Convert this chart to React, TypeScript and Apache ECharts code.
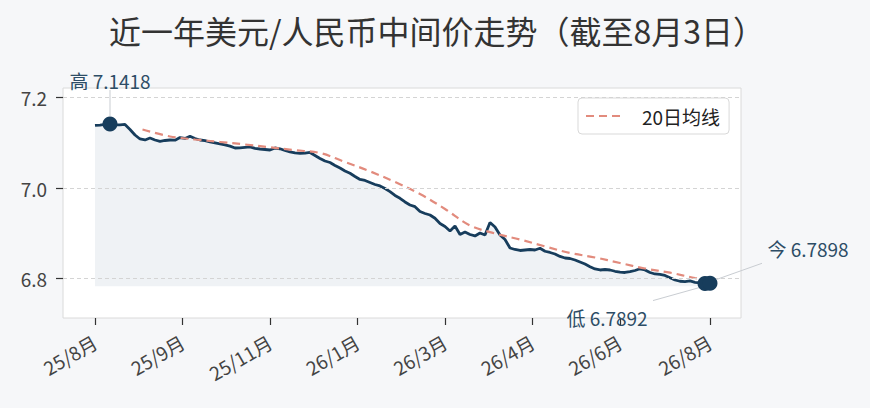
import React, { useEffect, useRef } from 'react';
import * as echarts from 'echarts';

const FONT = '"Noto Sans CJK SC", "Noto Sans", sans-serif';
const titleText = '近一年美元/人民币中间价走势（截至8月3日）';
const legendName = '20日均线';

// x axis: trading-day index, ticks and their labels
const tickIdx = [0, 35, 70, 105, 140, 175, 210, 246];
const tickLabels = ['25/8月', '25/9月', '25/11月', '26/1月', '26/3月', '26/4月', '26/6月', '26/8月'];
const yTicks = [6.8, 7.0, 7.2];

// mid-rate, sampled every 2 trading days (index 0, 2, 4, ... 246)
const sampleStep = 2;
const rate = [
  7.1386, 7.1395, 7.1408, 7.1418, 7.1401, 7.1397, 7.1408, 7.1297, 7.1176, 7.1087,
  7.1065, 7.1109, 7.1065, 7.1036, 7.1054, 7.1065, 7.1060, 7.1120, 7.1098, 7.1147,
  7.1098, 7.1065, 7.1050, 7.1021, 7.0999, 7.0977, 7.0955, 7.0928, 7.0888, 7.0893,
  7.0904, 7.0911, 7.0882, 7.0866, 7.0855, 7.0844, 7.0888, 7.0871, 7.0833, 7.0800,
  7.0778, 7.0771, 7.0775, 7.0789, 7.0723, 7.0656, 7.0601, 7.0568, 7.0502, 7.0446,
  7.0380, 7.0329, 7.0259, 7.0192, 7.0170, 7.0126, 7.0082, 7.0049, 6.9993, 6.9923,
  6.9839, 6.9777, 6.9695, 6.9629, 6.9591, 6.9485, 6.9441, 6.9408, 6.9335, 6.9220,
  6.9154, 6.9054, 6.9165, 6.8977, 6.9032, 6.8977, 6.8944, 6.9010, 6.8966, 6.9242,
  6.9143, 6.8966, 6.8866, 6.8678, 6.8645, 6.8623, 6.8634, 6.8645, 6.8634, 6.8672,
  6.8606, 6.8579, 6.8546, 6.8491, 6.8457, 6.8446, 6.8413, 6.8369, 6.8325, 6.8265,
  6.8214, 6.8192, 6.8203, 6.8192, 6.8164, 6.8144, 6.8137, 6.8155, 6.8181, 6.8219,
  6.8192, 6.8137, 6.8104, 6.8093, 6.8071, 6.8022, 6.7971, 6.7943, 6.7934, 6.7950,
  6.7920, 6.7905, 6.7892, 6.7898,
];

// 20-day moving average, read at these trading-day indices
const maIdx = [19, 30, 40, 50, 60, 70, 80, 90, 100, 110, 120, 130, 140, 150, 160, 170, 180, 190, 200, 210, 220, 230, 240, 246];
const maVals = [
  7.1297, 7.1143, 7.1076, 7.1021, 7.0966, 7.0904, 7.0838, 7.0778, 7.0579, 7.0373,
  7.0137, 6.9872, 6.9540, 6.9176, 6.8999, 6.8866, 6.8712, 6.8568, 6.8469, 6.8347,
  6.8225, 6.8133, 6.8015, 6.7960,
];

// highlighted points
const highIdx = 6;
const highVal = 7.1418;
const lowIdx = 244;
const lowVal = 6.7892;
const lastIdx = 246;
const lastVal = 6.7898;
const fillBase = 6.783;

const NAVY = '#173d5c';
const SALMON = '#e28b7d';
const ANN = '#2d4d66';
const GUIDE = '#c9cdd2';

export default function App() {
  const ref = useRef<HTMLDivElement>(null);

  useEffect(() => {
    document.body.style.margin = '0';
    const chart = echarts.init(ref.current!, null, { renderer: 'svg' });
    const option: any = {
      animation: false,
      backgroundColor: '#f6f7f9',
      textStyle: { fontFamily: FONT },
      title: {
        text: titleText,
        left: 104,
        top: 9,
        textStyle: { fontFamily: FONT, fontSize: 32, fontWeight: 'normal', color: '#333' },
      },
      legend: {
        data: [legendName],
        left: 578,
        top: 98,
        itemWidth: 39,
        itemHeight: 10,
        padding: [8, 9, 8, 7],
        backgroundColor: '#fff',
        borderColor: '#d9d9d9',
        borderWidth: 1,
        borderRadius: 4,
        itemStyle: { opacity: 0 },
        textStyle: { fontFamily: FONT, fontSize: 19, lineHeight: 20, color: '#222', padding: [0, 0, 0, 12] },
      },
      grid: {
        left: 63,
        top: 88,
        width: 678,
        height: 230,
        show: true,
        backgroundColor: '#fff',
        borderColor: '#dadada',
        borderWidth: 1,
      },
      xAxis: {
        type: 'value',
        min: -12.8,
        max: 258.4,
        axisLine: { show: false, onZero: false },
        splitLine: { show: false },
        axisTick: { show: true, customValues: tickIdx, length: 7, lineStyle: { color: '#333', width: 1.2 } },
        axisLabel: {
          customValues: tickIdx,
          rotate: 30,
          margin: 22,
          fontSize: 19,
          color: '#444',
          fontFamily: FONT,
          formatter: (v: number) => tickLabels[tickIdx.indexOf(v)] ?? '',
        },
      },
      yAxis: {
        type: 'value',
        min: 6.7131,
        max: 7.2214,
        axisLine: { show: false, onZero: false },
        splitLine: { show: false },
        axisTick: { show: true, customValues: yTicks, length: 7, lineStyle: { color: '#333', width: 1.2 } },
        axisLabel: {
          customValues: yTicks,
          margin: 16,
          fontSize: 19,
          color: '#444',
          fontFamily: FONT,
          formatter: (v: number) => v.toFixed(1),
        },
      },
      series: [
        {
          name: '中间价',
          type: 'line',
          data: rate.map((v, i) => [i * sampleStep, v]),
          showSymbol: false,
          symbol: 'none',
          z: 3,
          lineStyle: { color: NAVY, width: 2.8 },
          areaStyle: { color: 'rgba(30,70,120,0.1)', origin: fillBase },
          markLine: {
            silent: true,
            symbol: ['none', 'none'],
            label: { show: false },
            lineStyle: { color: '#d4d4d4', type: [4, 3], width: 1 },
            data: yTicks.map((v) => ({ yAxis: v })),
          },
        },
        {
          name: legendName,
          type: 'line',
          data: maIdx.map((d, i) => [d, maVals[i]]),
          smooth: 0.35,
          showSymbol: false,
          symbol: 'none',
          z: 4,
          itemStyle: { color: SALMON },
          lineStyle: { color: SALMON, width: 2.2, type: [8, 5] },
        },
        {
          name: 'marks',
          type: 'scatter',
          data: [
            [highIdx, highVal],
            [lowIdx, lowVal],
            [lastIdx, lastVal],
          ],
          symbolSize: 15,
          itemStyle: { color: NAVY, opacity: 1 },
          z: 6,
        },
      ],
    };
    chart.setOption(option);

    const px = (x: number, y: number) => chart.convertToPixel({ gridIndex: 0 }, [x, y]) as number[];
    const H = px(highIdx, highVal);
    const L = px(lowIdx, lowVal);
    const T = px(lastIdx, lastVal);
    const txt = (x: number, y: number, s: string) => ({
      type: 'text',
      x,
      y,
      z: 10,
      style: { text: s, fill: ANN, fontSize: 19, fontFamily: FONT, align: 'center', verticalAlign: 'middle' },
    });
    const ln = (x1: number, y1: number, x2: number, y2: number) => ({
      type: 'line',
      z: 5,
      shape: { x1, y1, x2, y2 },
      style: { stroke: GUIDE, lineWidth: 1 },
    });
    chart.setOption({
      graphic: [
        ln(H[0], H[1] - 8, H[0], H[1] - 34),
        txt(H[0], H[1] - 44, `高 ${highVal.toFixed(4)}`),
        ln(L[0] - 52, L[1] + 17, L[0] - 2, L[1] + 3),
        txt(L[0] - 98, L[1] + 34, `低 ${lowVal.toFixed(4)}`),
        ln(T[0] + 52, T[1] - 20, T[0] + 7, T[1] - 4),
        txt(T[0] + 98, T[1] - 35, `今 ${lastVal.toFixed(4)}`),
      ],
    });

    return () => chart.dispose();
  }, []);

  return <div ref={ref} style={{ width: 870, height: 408 }} />;
}
